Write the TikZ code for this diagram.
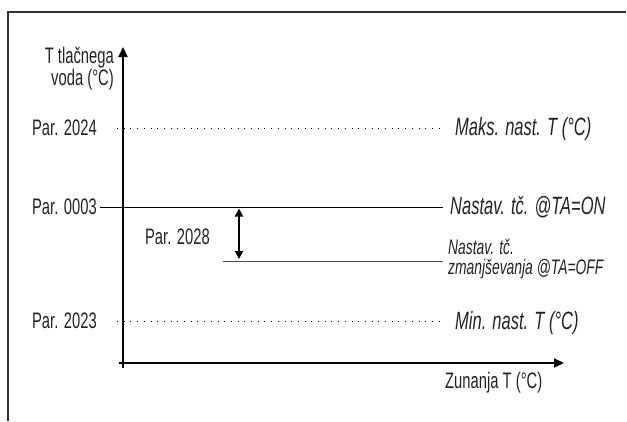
\documentclass[tikz,border=0pt]{standalone}
\usepackage{fontspec}
\setmainfont[FakeStretch=0.66]{Liberation Sans}
\usetikzlibrary{arrows.meta,positioning}
\definecolor{labgray}{RGB}{35,35,35}
\tikzset{
  parlab/.style={font=\fontsize{22.4}{22}\selectfont,text=labgray,inner sep=3pt},
  curvelab/.style={font=\fontsize{25}{23}\selectfont\itshape,text=labgray,inner sep=0pt},
  offlab/.style={font=\fontsize{21}{19.5}\selectfont\itshape,text=labgray,inner sep=0pt,align=left},
  axisline/.style={line width=2pt,-{Triangle[length=10pt,width=9pt]}},
  dimarrow/.style={line width=1.8pt,{Triangle[length=8pt,width=8pt]}-{Triangle[length=8pt,width=8pt]}},
  dotline/.style={line width=0.9pt,dash pattern=on 1pt off 5.7pt},
  setline/.style={line width=1pt}
}

\begin{document}
\begin{tikzpicture}[x=1pt,y=-1pt]
  \useasboundingbox (0,0) rectangle (627,421);
  % frame
  \draw[line width=1.5pt,black!80] (8,421) -- (8,12) -- (626,12);

  % axes
  \coordinate (ybot) at (123,368);
  \coordinate (ytop) at (123,47);
  \coordinate (xleft) at (119,363);
  \coordinate (xright) at (564,363);
  \draw[axisline] (ybot) -- (ytop);
  \draw[axisline] (xleft) -- (xright);
  \node[parlab,anchor=north east,align=right,inner sep=0pt] (ylab) at (114,47) {T tlačnega\\voda (°C)};
  \node[parlab,anchor=base west,inner sep=0pt] (xlab) at (445,388) {Zunanja T (°C)};

  % parameter labels
  \node[parlab,anchor=east] (p2024) at (100,128) {Par. 2024};
  \node[parlab,anchor=east] (p0003) at (100,207) {Par. 0003};
  \node[parlab,anchor=east] (p2023) at (100,321) {Par. 2023};
  \node[parlab,anchor=east] (p2028) at (213,237) {Par. 2028};

  % curve labels
  \node[curvelab,anchor=base west] (maks) at (455,135) {Maks. nast. T (°C)};
  \node[curvelab,anchor=base west] (son) at (450,214) {Nastav. tč. @TA=ON};
  \node[offlab,anchor=west] (soff) at (448,259) {Nastav. tč.\\zmanjševanja @TA=OFF};
  \node[curvelab,anchor=base west] (mini) at (455,329.5) {Min. nast. T (°C)};

  % levels
  \draw[dotline,shorten <=17pt,shorten >=12pt] (p2024.east) -- (p2024.east -| maks.west);
  \draw[setline,shorten >=7pt] (p0003.east) -- (p0003.east -| son.west);
  \coordinate (offstart) at (223,261);
  \draw[setline,black!70] (offstart) -- ([xshift=-5pt]offstart -| soff.west);
  \draw[dotline,shorten <=17pt,shorten >=12pt] (p2023.east) -- (p2023.east -| mini.west);

  % reduction
  \coordinate (dtop) at (239,208.5);
  \coordinate (dbot) at (239,259);
  \draw[dimarrow] (dtop) -- (dbot);
\end{tikzpicture}
\end{document}
